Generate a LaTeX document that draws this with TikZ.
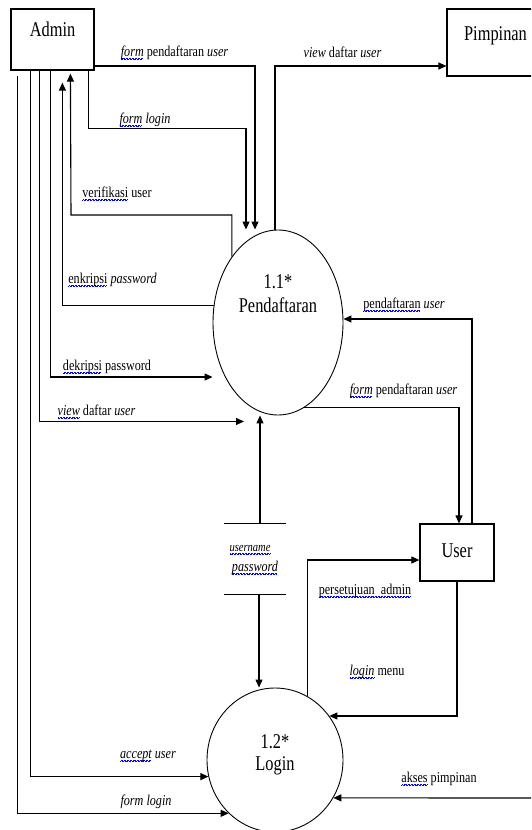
\documentclass[tikz,border=0pt]{standalone}
\usepackage{fontspec}
\setmainfont{Liberation Serif}
\usepackage{graphicx}
\usetikzlibrary{arrows.meta,shapes.geometric}

% blue wavy underline for flagged words
\newsavebox\wvbox
\newcommand\wavy[1]{\sbox\wvbox{#1}\rlap{\color{blue}\hbox to \wd\wvbox{\leaders\hbox{\rule[-3.4pt]{0.9pt}{0.8pt}\rule[-2.4pt]{0.9pt}{0.8pt}}\hfill}}\usebox\wvbox}
% condensed text for entity/process names and flow labels
\newcommand\mainsq[1]{\scalebox{0.78}[1]{#1}}
\newcommand\labsq[1]{\scalebox{0.81}[1]{#1}}

\begin{document}
\begin{tikzpicture}[x=1pt,y=-1pt,
  flow/.style={line width=1.1pt,-{Triangle[length=8pt,width=7pt]}},
  plain/.style={line width=1.1pt},
  ent/.style={draw,line width=1.2pt,rectangle,inner sep=0pt,font=\fontsize{21}{24}\selectfont},
  proc/.style={draw,line width=0.9pt,ellipse,inner sep=0pt},
  ptext/.style={font=\fontsize{21}{24}\selectfont,anchor=base,inner sep=0pt},
  lab/.style={font=\fontsize{15}{17}\selectfont,anchor=base,inner sep=0pt}]

\fill[white] (0,0) rectangle (531,830);
\useasboundingbox (0,0) rectangle (531,830);
\clip (0,0) rectangle (531,830);

% external entities
\node[ent,minimum width=83pt,text height=27pt,text depth=34pt] (admin) at (52.5,39.5) {\mainsq{Admin}};
\node[ent,minimum width=97pt,text height=31pt,text depth=36pt] (pim) at (495.5,42.5) {\mainsq{Pimpinan}};
\node[ent,minimum width=74pt,text height=33pt,text depth=24pt] (user) at (457,552.5) {\mainsq{User}};

% processes
\node[proc,minimum width=130pt,minimum height=185pt] (p11) at (278,322.5) {};
\node[ptext] (p11n) at (278,288) {\mainsq{1.1*}};
\node[ptext] (p11t) at (278,312) {\mainsq{Pendaftaran}};
\node[proc,minimum width=136pt,minimum height=144pt] (p12) at (275,760) {};
\node[ptext] (p12n) at (275,748) {\mainsq{1.2*}};
\node[ptext] (p12t) at (275,770) {\mainsq{Login}};

% data store
\node[minimum width=62pt,minimum height=70pt,inner sep=0pt] (store) at (255,559) {};
\draw[plain] (store.north west) -- (store.north east);
\draw[plain] (store.south west) -- (store.south east);
\node[lab,font=\fontsize{13}{15}\selectfont] (st1) at (250,551) {\labsq{\textit{\wavy{username}}}};
\node[lab] (st2) at (255,571) {\labsq{\textit{\wavy{password}}}};

% flows between Admin and Pendaftaran
\draw[flow] ([yshift=-26.5pt]admin.east) -| ([xshift=-23pt]p11.north);
\draw[flow] ([xshift=-6pt]admin.south east) |- ++(0,58) -| ([xshift=-32pt]p11.north);
\draw[flow] (p11.125) |- (71,215) -- ([xshift=60pt,yshift=-3pt]admin.south west);
\draw[flow] (p11.165.5) -| ([xshift=52pt,yshift=-12pt]admin.south west);
\draw[flow] ([xshift=40pt]admin.south west) |- (p11.west |- 0,377);
\draw[flow] ([xshift=29pt]admin.south west) |- ([xshift=-34pt,yshift=-6pt]p11.south);

% flows between Admin and Login
\draw[flow] ([xshift=20pt]admin.south west) |- (p12.194);
\draw[flow] ([xshift=7pt,yshift=-5pt]admin.south west) |- (p12.229);

% Pendaftaran to Pimpinan, User
\draw[flow] ([xshift=-3pt]p11.north) |- ([yshift=-23.5pt]pim.west);
\draw[flow] ([xshift=15pt]user.north) |- ([yshift=3.5pt]p11.east);
\draw[flow] (p11.-73) -| ([xshift=2pt]user.north);

% data store flows
\draw[flow] ([xshift=5pt]store.north) -- ([xshift=5pt]store.north |- p11.south);
\draw[flow] ([xshift=4pt]store.south) -- ([xshift=4pt]store.south |- p12.north);

% Login with User and Pimpinan
\draw[flow] (p12.63) |- ([yshift=-7.5pt]user.west);
\draw[flow] (user.south) |- (p12.39);
\coordinate (aks) at (533,798);
\draw[flow] (aks) -- (p12.-33.4);

% flow labels
\node[lab] (l1) at (174.5,56) {\labsq{\textit{\wavy{form}} pendaftaran \textit{user}}};
\node[lab] (l2) at (145,123) {\labsq{\textit{\wavy{form} login}}};
\node[lab] (l3) at (117,197) {\labsq{\wavy{verifikasi} user}};
\node[lab] (l4) at (342.5,57) {\labsq{\textit{view} daftar \textit{user}}};
\node[lab] (l5) at (112.5,283) {\labsq{\wavy{enkripsi} \textit{password}}};
\node[lab] (l6) at (107,370) {\labsq{\wavy{dekripsi} password}};
\node[lab] (l7) at (96.5,415) {\labsq{\textit{\wavy{view}} daftar \textit{user}}};
\node[lab] (l8) at (404,308) {\labsq{\wavy{pendaftaran} \textit{user}}};
\node[lab] (l9) at (403.5,394) {\labsq{\textit{\wavy{form}} pendaftaran \textit{user}}};
\node[lab] (l10) at (365,594) {\labsq{\wavy{persetujuan\ \ admin}}};
\node[lab] (l11) at (377,675) {\labsq{\textit{\wavy{login}} menu}};
\node[lab] (l12) at (148,758) {\labsq{\textit{\wavy{accept} user}}};
\node[lab] (l13) at (146,805) {\labsq{\textit{form login}}};
\node[lab] (l14) at (439,782) {\labsq{\wavy{akses} pimpinan}};
\end{tikzpicture}
\end{document}
